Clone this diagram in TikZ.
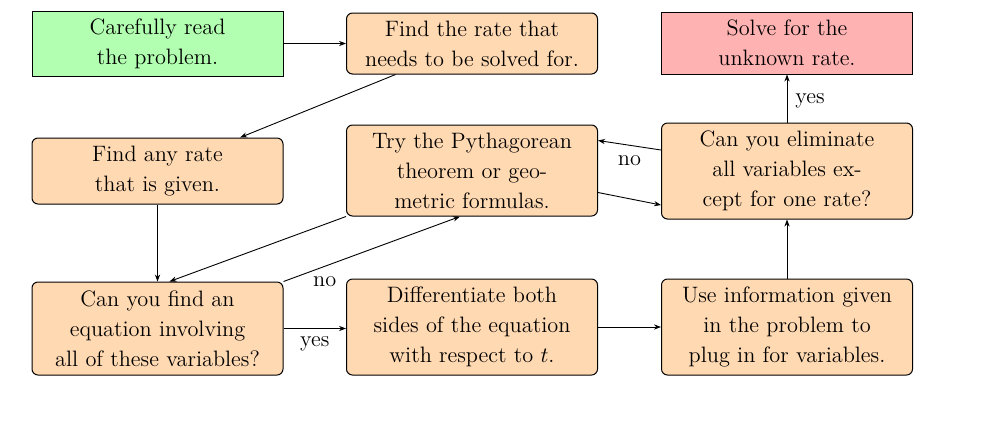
\documentclass[tikz,border=0pt]{standalone}
\usetikzlibrary{arrows.meta,positioning}
\begin{document}
\begin{tikzpicture}[x=0.5pt,y=-0.5pt,
  box/.style={draw,line width=0.5pt,align=center,inner sep=0pt,minimum width=125.5pt,font=\fontsize{11.15}{15}\selectfont},
  ob/.style={box,fill=orange!30,rounded corners=3pt},
  arr/.style={-{Stealth[length=3.5pt,width=2.6pt]},line width=0.45pt},
  lab/.style={font=\fontsize{11.15}{13}\selectfont,inner sep=1pt}]
\useasboundingbox (0,0) rectangle (1000,425);
\node[box,fill=green!30,minimum height=32.5pt] (read) at (157.5,43.5) {Carefully read\\the problem.};
\node[ob,minimum height=30.5pt] (find) at (472,43.5) {Find the rate that\\needs to be solved for.};
\node[box,fill=red!30,minimum height=31pt] (solve) at (787,43) {Solve for the\\unknown rate.};
\node[ob,minimum height=33pt] (given) at (157.5,171) {Find any rate\\that is given.};
\node[ob,minimum height=45.5pt] (pyth) at (472,170.5) {Try the Pythagorean\\theorem or geo-\\metric formulas.};
\node[ob,minimum height=48pt] (elim) at (787,171) {Can you eliminate\\all variables ex-\\cept for one rate?};
\node[ob,minimum height=46.5pt] (eq) at (157.5,328.5) {Can you find an\\equation involving\\all of these variables?};
\node[ob,minimum height=48pt] (diff) at (472,327) {Differentiate both\\sides of the equation\\with respect to $t$.};
\node[ob,minimum height=48pt] (use) at (787,327) {Use information given\\in the problem to\\plug in for variables.};
\draw[arr] (read) -- (find);
\draw[arr] (find) -- (given);
\draw[arr] (given) -- (eq);
\draw[arr] (pyth.south west) -- ([xshift=6pt]eq.north);
\draw[arr] (eq.north east) -- ([xshift=-6pt]pyth.south) node[lab,pos=0.12,below right=0pt and 3pt] (no1) {no};
\draw[arr] (eq.east) -- (eq.east -| diff.west) node[lab,pos=0.5,below=3pt] (yes1) {yes};
\draw[arr] (diff) -- (use);
\draw[arr] (use) -- (elim);
\draw[arr] (elim) -- (solve) node[lab,pos=0.45,right=3pt] (yes2) {yes};
\draw[arr] ([yshift=10.5pt]elim.west) -- ([yshift=15pt]pyth.east) node[lab,pos=0.5,below=4pt] (no2) {no};
\draw[arr] ([yshift=-11pt]pyth.east) -- ([yshift=-17pt]elim.west);
\end{tikzpicture}
\end{document}
